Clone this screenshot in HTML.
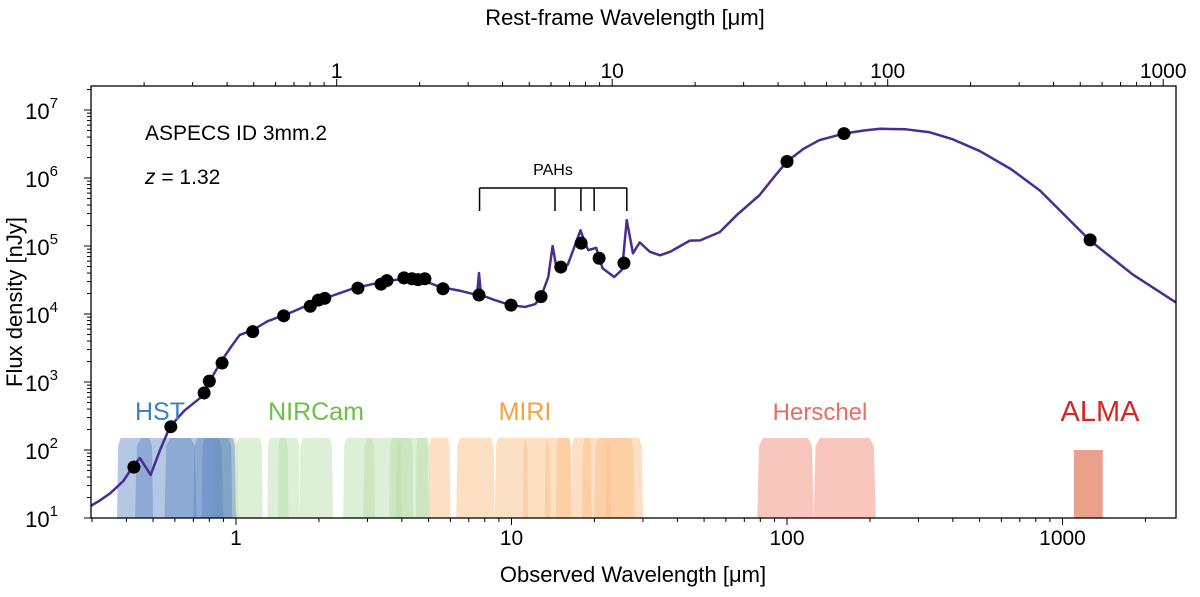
<!DOCTYPE html>
<html><head><meta charset="utf-8"><style>
body{margin:0;background:#fff;}
svg{display:block;font-family:"Liberation Sans",sans-serif;}
</style></head><body>
<svg id="chart" width="1200" height="597"></svg>
<script>
const pointLam=[0.426,0.58,0.766,0.80,0.89,1.15,1.49,1.86,1.99,2.10,2.77,3.36,3.53,4.07,4.35,4.58,4.85,5.64,7.62,9.96,12.8,15.1,17.9,20.8,25.6,100,161,1260];
const pointFlux=[56,220,690,1030,1900,5500,9400,13000,16000,17000,24000,27500,31000,34000,33000,32000,33000,23500,19000,13500,18000,49000,110000,66000,56000,1.75e6,4.5e6,1.23e5];
const modelLam=[0.288,0.32,0.349,0.39,0.426,0.448,0.49,0.53,0.576,0.65,0.74,0.82,0.89,0.96,1.03,1.15,1.3,1.57,1.9,2.19,2.6,3.06,3.6,4.28,5.0,5.5,6.5,7.5,7.62,7.75,8.7,9.9,11.2,12.2,12.8,13.6,14.1,14.6,16,16.8,17.8,18.5,19,20.3,21.4,23.6,25.2,26.2,27.6,29.2,31.8,34.6,37.6,41,44.4,48.4,57,66,79.5,90,100,115,131,161,190,218,270,330,400,500,650,830,1260,1800,2600];
const modelFlux=[14,18,23,35,60,76,43,100,220,380,580,1200,2100,3300,4900,5800,7800,10400,14500,18000,23000,27000,31000,33500,29000,25000,22000,19000,40000,19000,16000,13500,12700,14000,18000,35000,100000,45000,53000,90000,170000,110000,87000,94000,47000,35000,45000,240000,78000,113000,82000,73000,82000,100000,120000,121000,160000,290000,560000,1.05e6,1.75e6,2.7e6,3.6e6,4.5e6,5.0e6,5.3e6,5.2e6,4.7e6,3.7e6,2.5e6,1.35e6,6.5e5,1.2e5,3.8e4,1.45e4];
const hstBands=[[0.37,0.5],[0.43,0.72],[0.55,0.9],[0.7,0.97],[0.75,1.0]];
const nircamBands=[[0.82,1.02],[1.0,1.25],[1.3,1.55],[1.42,1.7],[1.7,2.25],[2.45,3.2],[2.9,4.0],[3.6,4.4],[3.8,5.0],[4.5,5.05]];
const miriBands=[[5.0,6.0],[6.3,8.7],[8.7,11.5],[11,13.8],[13.2,16.5],[14.5,16.5],[16.5,19.5],[18,23],[20,28],[22,30]];
const herschelBands=[[78,125],[125,210]];
const almaBands=[[1100,1400]];
const pahRest=[3.3,6.2,7.7,8.6,11.3];
const redshift=1.32;
const yTicks=[1,2,3,4,5,6,7];

const L=91,R=1176,T=86,B=518;
const x=l=>236+275.5*Math.log10(l);
const y=f=>518-68*(Math.log10(f)-1);
const svg=document.getElementById('chart');
const NS='http://www.w3.org/2000/svg';
function mk(tag,attrs,parent){const e=document.createElementNS(NS,tag);for(const k in attrs)e.setAttribute(k,attrs[k]);(parent||svg).appendChild(e);return e;}
const clip=mk('clipPath',{id:'pc'});mk('rect',{x:L,y:T,width:R-L,height:B-T},clip);
const g=mk('g',{'clip-path':'url(#pc)'});

function bands(arr,top,fill,op,name){
  arr.forEach(b=>{
    const a=x(b[0]),c=x(b[1]),w=c-a;
    const p=mk('polygon',{points:`${a},${B} ${a+w*0.03},${y(top)+8} ${a+w*0.1},${y(top)} ${c-w*0.1},${y(top)} ${c-w*0.03},${y(top)+8} ${c},${B}`,fill:fill,'fill-opacity':op},g);
    
    
  });
}
bands(nircamBands,150,'#b5dca6',0.45,'nircam-filter');
bands(hstBands,150,'#5a84c0',0.45,'hst-filter');
bands(miriBands,150,'#fbc089',0.5,'miri-filter');
bands(herschelBands,150,'#f4a090',0.6,'herschel-filter');
almaBands.forEach(b=>{const r=mk('rect',{x:x(b[0]),y:y(100),width:x(b[1])-x(b[0]),height:B-y(100),fill:'#e38a6e','fill-opacity':0.8},g);
});

const line=mk('polyline',{points:modelLam.map((l,i)=>x(l)+','+y(modelFlux[i])).join(' '),fill:'none',stroke:'#4b2c91','stroke-width':2.5,'stroke-linejoin':'round'},g);

pointLam.forEach((l,i)=>{const c=mk('circle',{cx:x(l),cy:y(pointFlux[i]),r:6.5,fill:'#000'},g);
});

const pxs=pahRest.map(r=>x(r*(1+redshift)));
const br=mk('g',{stroke:'#000','stroke-width':1.5,fill:'none'});

mk('line',{x1:pxs[0],x2:pxs[pxs.length-1],y1:188,y2:188},br);
pxs.forEach(p=>mk('line',{x1:p,x2:p,y1:188,y2:211},br));
const pt=mk('text',{x:553,y:175,'font-size':16,'text-anchor':'middle'});pt.textContent='PAHs';


const fr=mk('rect',{x:L,y:T,width:R-L,height:B-T,fill:'none',stroke:'#000','stroke-width':1.3});


const ax=mk('g',{stroke:'#000','stroke-width':1});
for(let d=-1;d<=3;d++)for(let m=1;m<10;m++){const l=m*Math.pow(10,d);
  const px=x(l);if(px>=L&&px<=R)mk('line',{x1:px,x2:px,y1:B,y2:B+(m==1?7:4)},ax);
  const tx=x(l*(1+redshift));if(tx>=L&&tx<=R)mk('line',{x1:tx,x2:tx,y1:T,y2:T-(m==1?7:4)},ax);
}
for(let d=1;d<=7;d++)for(let m=1;m<10;m++){const f=m*Math.pow(10,d);const py=y(f);if(py<T||py>B)continue;
  mk('line',{x1:L,x2:L-(m==1?7:4),y1:py,y2:py},ax);}

function txt(s,xx,yy,size,anchor,name,extra){const t=mk('text',Object.assign({x:xx,y:yy,'font-size':size,'text-anchor':anchor||'middle'},extra||{}));t.textContent=s;
return t;}
[[1,'1'],[10,'10'],[100,'100'],[1000,'1000']].forEach(v=>txt(v[1],x(v[0]),545,21,'middle','x-tick-label'));
[[1,'1'],[10,'10'],[100,'100'],[1000,'1000']].forEach(v=>txt(v[1],x(v[0]*(1+redshift)),78,21,'middle','top-tick-label'));
yTicks.forEach(d=>{const t=txt('10',58,y(Math.pow(10,d))+9,22,'end','y-tick-label');const s=mk('tspan',{dy:-11,'font-size':15},t);s.textContent=d;});
txt('Observed Wavelength [μm]',633,582,22,'middle','x-axis-title');
txt('Rest-frame Wavelength [μm]',625,25,22,'middle','top-axis-title');
txt('Flux density [nJy]',22,302,22,'middle','y-axis-title',{transform:'rotate(-90 22 302)'});
txt('ASPECS ID 3mm.2',145,140,21,'start','source-id-label');
const zt=txt('',145,184,21,'start','redshift-label');zt.innerHTML='<tspan font-style="italic">z</tspan> = 1.32';
txt('HST',160,420,25,'middle','hst-label',{fill:'#3d7fc0'});
txt('NIRCam',316,420,25,'middle','nircam-label',{fill:'#6abf45'});
txt('MIRI',525,420,25,'middle','miri-label',{fill:'#f8a23c'});
txt('Herschel',820,420,24,'middle','herschel-label',{fill:'#ee6b5f'});
txt('ALMA',1100,421,29,'middle','alma-label',{fill:'#d62728'});
</script>
</body></html>
